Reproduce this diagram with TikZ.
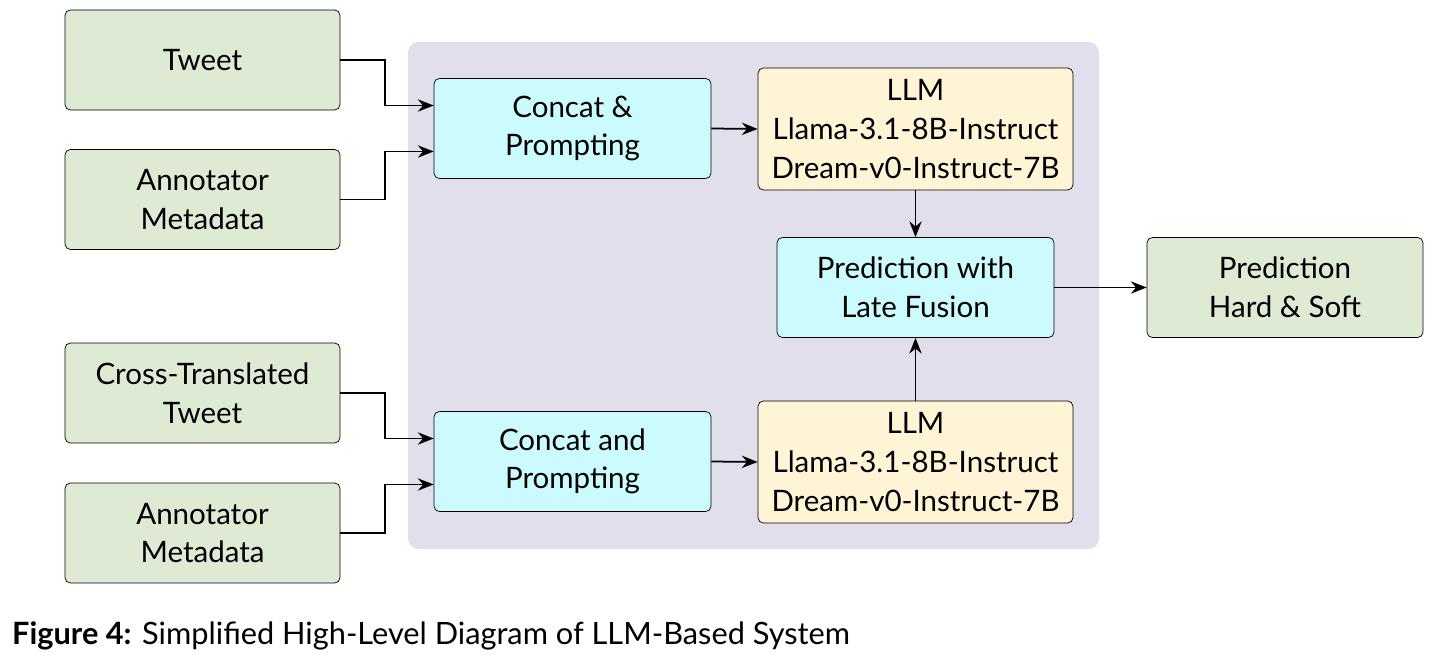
\documentclass[tikz,border=0pt]{standalone}
\usepackage{fontspec}
\setmainfont{Lato}
\usetikzlibrary{positioning,calc,arrows.meta}
\definecolor{inbox}{RGB}{222,234,212}
\definecolor{procbox}{RGB}{204,251,254}
\definecolor{llmbox}{RGB}{255,245,214}
\definecolor{panel}{RGB}{226,223,236}
\tikzset{
  box/.style={draw, rounded corners=3pt, align=center, font=\fontsize{16.8}{22}\selectfont,
    minimum height=2cm, inner sep=2pt},
  input/.style={box, fill=inbox, minimum width=5.5cm},
  proc/.style={box, fill=procbox, minimum width=5.54cm},
  llm/.style={box, fill=llmbox, minimum width=6.3cm, minimum height=2.44cm},
  arr/.style={-{Stealth[length=9pt,width=7pt]}, line width=1pt},
}
\begin{document}
\begin{tikzpicture}[x=0.02cm,y=-0.02cm]
  \useasboundingbox (0,0) rectangle (1434,661);
  % background panel
  \fill[panel, rounded corners=6pt] (408,42) rectangle (1099,549);

  % inputs
  \node[input] (tweet) at (202.5,60) {Tweet};
  \node[input] (meta1) at (202.5,199.5) {Annotator\\Metadata};
  \node[input] (cross) at (202.5,393) {Cross-Translated\\Tweet};
  \node[input] (meta2) at (202.5,533) {Annotator\\Metadata};

  % processing
  \node[proc] (concat1) at (572.5,128.5) {Concat \&\\Prompting};
  \node[proc] (concat2) at (572.5,461.5) {Concat and\\Prompting};
  \node[llm] (llm1) at (915.5,129) {LLM\\Llama-3.1-8B-Instruct\\Dream-v0-Instruct-7B};
  \node[llm] (llm2) at (915.5,462) {LLM\\Llama-3.1-8B-Instruct\\Dream-v0-Instruct-7B};
  \node[proc] (fusion) at (915.5,287.5) {Prediction with\\Late Fusion};
  \node[input, minimum width=5.52cm] (out) at (1285,287.5) {Prediction\\Hard \& Soft};

  % connectors
  \draw[arr] (tweet.east) -- ++(45,0) |- ([yshift=0.46cm]concat1.west);
  \draw[arr] (meta1.east) -- ++(45,0) |- ([yshift=-0.46cm]concat1.west);
  \draw[arr] (cross.east) -- ++(45,0) |- ([yshift=0.46cm]concat2.west);
  \draw[arr] (meta2.east) -- ++(45,0) |- ([yshift=-0.46cm]concat2.west);
  \draw[arr] (concat1.east) -- (llm1.west);
  \draw[arr] (concat2.east) -- (llm2.west);
  \draw[arr] (llm1.south) -- (fusion.north);
  \draw[arr] (llm2.north) -- (fusion.south);
  \draw[arr] (fusion.east) -- (out.west);

  % caption
  \node[anchor=west, font=\fontsize{17.5}{20}\selectfont] (caption) at (6,636)
    {\textbf{Figure 4:} Simplified High-Level Diagram of LLM-Based System};
\end{tikzpicture}
\end{document}
